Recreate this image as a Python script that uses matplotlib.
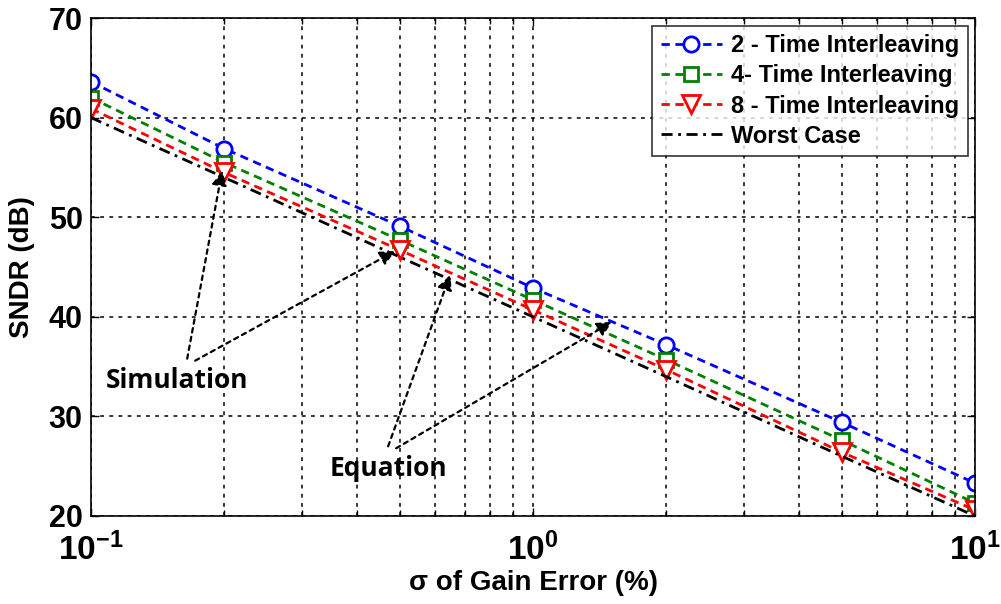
import matplotlib
matplotlib.use("Agg")
import matplotlib.pyplot as plt
from matplotlib.ticker import LogLocator, NullFormatter, FixedLocator, FixedFormatter

# Gain-error sigma (%) and SNDR (dB) for each interleaving factor
sigma = [0.1, 0.2, 0.5, 1, 2, 5, 10]
sndr_2ti = [63.6, 56.9, 49.1, 42.9, 37.2, 29.4, 23.3]
sndr_4ti = [62.0, 55.5, 47.7, 41.7, 35.7, 27.6, 21.3]
sndr_8ti = [60.9, 54.5, 46.7, 40.7, 34.7, 26.4, 20.6]
sndr_worst = [60.0, 54.0, 46.0, 40.0, 34.0, 26.0, 20.0]

series_labels = ["2 - Time Interleaving", "4- Time Interleaving",
                 "8 - Time Interleaving", "Worst Case"]
y_ticks = [20, 30, 40, 50, 60, 70]
x_ticks = [0.1, 1, 10]
x_tick_labels = [r"$\mathbf{10^{-1}}$", r"$\mathbf{10^{0}}$", r"$\mathbf{10^{1}}$"]

plt.rcParams["font.family"] = ["Liberation Sans", "DejaVu Sans"]
plt.rcParams["mathtext.fontset"] = "custom"
plt.rcParams["mathtext.bf"] = "Liberation Sans:bold"
plt.rcParams["mathtext.rm"] = "Liberation Sans:bold"

fig = plt.figure(figsize=(10.01, 6.04), dpi=100)
ax = fig.add_axes([0.091, 0.1457, 0.883, 0.8243])

ax.plot(sigma, sndr_2ti, color="blue", ls="--", lw=2, marker="o", ms=11,
        mfc="white", mec="blue", mew=2, dashes=(3, 2), label=series_labels[0])
ax.plot(sigma, sndr_4ti, color="green", ls="--", lw=2, marker="s", ms=10,
        mfc="white", mec="green", mew=2, dashes=(3, 2), label=series_labels[1])
ax.plot(sigma, sndr_8ti, color="red", ls="--", lw=2, marker="v", ms=13,
        mfc="white", mec="red", mew=2, dashes=(3, 2), label=series_labels[2])
ax.plot(sigma, sndr_worst, color="black", lw=2, dashes=(4, 2, 1, 2),
        label=series_labels[3])

ax.set_xscale("log")
ax.set_xlim(0.1, 10)
ax.set_ylim(20, 70)
ax.yaxis.set_major_locator(FixedLocator(y_ticks))
ax.xaxis.set_major_locator(FixedLocator(x_ticks))
ax.xaxis.set_major_formatter(FixedFormatter(x_tick_labels))
ax.xaxis.set_minor_locator(LogLocator(base=10, subs=range(2, 10)))
ax.xaxis.set_minor_formatter(NullFormatter())

ax.grid(True, which="major", color="black", ls=(0, (2.5, 3.5)), lw=1.1)
ax.grid(True, which="minor", axis="x", color="black", ls=(0, (2.5, 3.5)), lw=1.1)
ax.tick_params(which="both", direction="in", top=True, right=True, width=1)
ax.tick_params(which="major", length=6, labelsize=22)
ax.tick_params(axis="x", which="major", pad=12, labelsize=24)
ax.tick_params(axis="y", which="major", pad=6)
ax.tick_params(which="minor", length=4)
for lab in ax.get_yticklabels():
    lab.set_fontweight("bold")
for s in ax.spines.values():
    s.set_linewidth(1.2)

ax.set_xlabel("σ of Gain Error (%)", fontsize=20, fontweight="bold", labelpad=2)
ax.set_ylabel("SNDR (dB)", fontsize=20, fontweight="bold", labelpad=10)

leg = ax.legend(loc="upper right", bbox_to_anchor=(0.992, 0.984), borderaxespad=0,
                prop={"weight": "bold", "size": 17}, frameon=True, fancybox=False,
                edgecolor="black", handlelength=2.6, borderpad=0.35,
                labelspacing=0.3, handletextpad=0.4)
leg.get_frame().set_linewidth(1.2)

ann_font = {"family": ["Open Sans", "DejaVu Sans"], "weight": "bold", "size": 19}
arrow = dict(arrowstyle="-|>", color="black", lw=1.6, ls=(0, (2, 2)),
             mutation_scale=22, shrinkA=0, shrinkB=0)
ax.text(0.108, 33.6, "Simulation", fontdict=ann_font, va="center", ha="left")
ax.annotate("", xy=(0.198, 54.7), xytext=(0.165, 35.8), arrowprops=arrow)
ax.annotate("", xy=(0.487, 46.6), xytext=(0.172, 35.6), arrowprops=arrow)
ax.text(0.347, 24.8, "Equation", fontdict=ann_font, va="center", ha="left")
ax.annotate("", xy=(0.649, 44.2), xytext=(0.47, 27.0), arrowprops=arrow)
ax.annotate("", xy=(1.51, 39.5), xytext=(0.49, 26.8), arrowprops=arrow)

fig.savefig("out.png", dpi=100)
